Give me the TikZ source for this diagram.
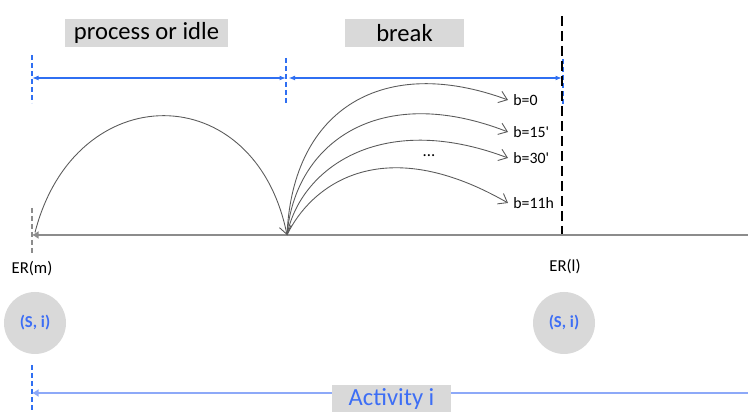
\documentclass[tikz,border=0pt]{standalone}
\usepackage{fontspec}
\setmainfont{Carlito}
\usetikzlibrary{positioning,arrows.meta}
\definecolor{span}{HTML}{2F6FF2}
\definecolor{spanlt}{HTML}{8DA9F8}
\definecolor{sitext}{HTML}{3D6EF5}
\definecolor{boxgray}{HTML}{D9D9D9}
\definecolor{arcgray}{HTML}{5A5A5A}
\definecolor{axisgray}{HTML}{8C8C8C}

\begin{document}
\begin{tikzpicture}[
  font=\fontsize{9.5}{11}\selectfont,
  tag/.style={fill=boxgray,minimum height=5.6mm,inner sep=0pt,font=\fontsize{14}{16}\selectfont},
  state/.style={circle,fill=boxgray,minimum size=12.4mm,inner sep=0pt,text=sitext,
                font=\bfseries\fontsize{9.5}{11}\selectfont},
  tick/.style={dash pattern=on 1mm off 0.6mm,line width=0.6pt},
  jump/.style={arcgray,line width=0.5pt,-{Straight Barb[length=1.6mm,width=2.4mm]}},
  bval/.style={anchor=west,inner sep=1mm,font=\fontsize{9}{11}\selectfont},
]
\useasboundingbox (0,0) rectangle (14.96,8.24);

%==================================================================== HEADER ===
\node[tag,minimum width=32.6mm] (proc) at (2.93,7.58) {process or idle};
\node[tag,minimum width=23.8mm] (brk)  at (8.09,7.58) {break};

% span markers
\coordinate (m0) at (0.64,6.68);
\coordinate (m1) at (5.72,6.68);
\coordinate (m1b) at (5.77,6.68);
\coordinate (m2) at (11.24,6.68);
\draw[span,tick] (0.64,7.14) -- (0.64,6.18);
\draw[span,tick] (5.72,7.08) -- (5.72,6.14);
\draw[span,tick] (11.26,7.05) -- (11.26,6.15);
\draw[span,line width=0.8pt,{Latex[length=1.3mm]}-{Latex[length=1.3mm]}] (m0) -- (m1);
\draw[span,line width=0.8pt,{Latex[length=1.3mm]}-{Latex[length=1.3mm]}] (m1b) -- (m2);

% end of the break window
\draw[black,line width=0.8pt,dash pattern=on 2mm off 1mm] (11.24,7.92) -- (11.24,3.50);

%================================================================== TIMELINE ===
\coordinate (ERm)   at (0.64,3.54);
\coordinate (ERa)   at (0.70,3.59);
\coordinate (bp)    at (5.74,3.54);
\coordinate (axend) at (14.96,3.54);
\draw[axisgray,line width=0.8pt,-{Latex[length=1.3mm,width=1.6mm]}] (axend) -- (ERm);
\draw[axisgray,tick] (0.64,4.08) -- (0.64,3.16);

% process or idle
\draw[jump] (ERa) .. controls (1.5,6.71) and (5.1,6.71) .. (bp);

% break lengths
\node[bval] (b0)  at (10.16,6.24) {b=0};
\node[bval] (b15) at (10.16,5.60) {b=15\textquotesingle};
\node[bval] (b30) at (10.16,5.08) {b=30\textquotesingle};
\node[bval] (b11) at (10.16,4.18) {b=11h};
\node (dots) at (8.58,5.12) {...};

\draw[jump] (bp) .. controls (5.85,6.10) and (7.70,7.15) .. (b0.west);
\draw[jump] (bp) .. controls (5.90,5.40) and (7.60,6.60) .. (b15.west);
\draw[jump] (bp) .. controls (6.00,4.85) and (7.60,6.05) .. (b30.west);
\draw[jump] (bp) .. controls (6.20,4.50) and (7.60,5.65) .. (b11.west);

%==================================================================== STATES ===
\node (erm) at (0.64,2.86) {ER(m)};
\node (erl) at (11.30,2.90) {ER(l)};
\node[state] (sm) at (0.70,1.78) {(S, i)};
\node[state] (sl) at (11.28,1.78) {(S, i)};

%================================================================== ACTIVITY ===
\coordinate (a0)   at (0.64,0.38);
\coordinate (aend) at (14.96,0.38);
\draw[span,tick] (0.64,0.94) -- (0.64,0);
\draw[spanlt,line width=1pt,-{Latex[length=1.3mm,width=1.6mm]}] (aend) -- (a0);
\node[tag,minimum width=23.8mm,minimum height=5.4mm,text=sitext] (act) at (7.83,0.27) {Activity i};

\end{tikzpicture}
\end{document}
